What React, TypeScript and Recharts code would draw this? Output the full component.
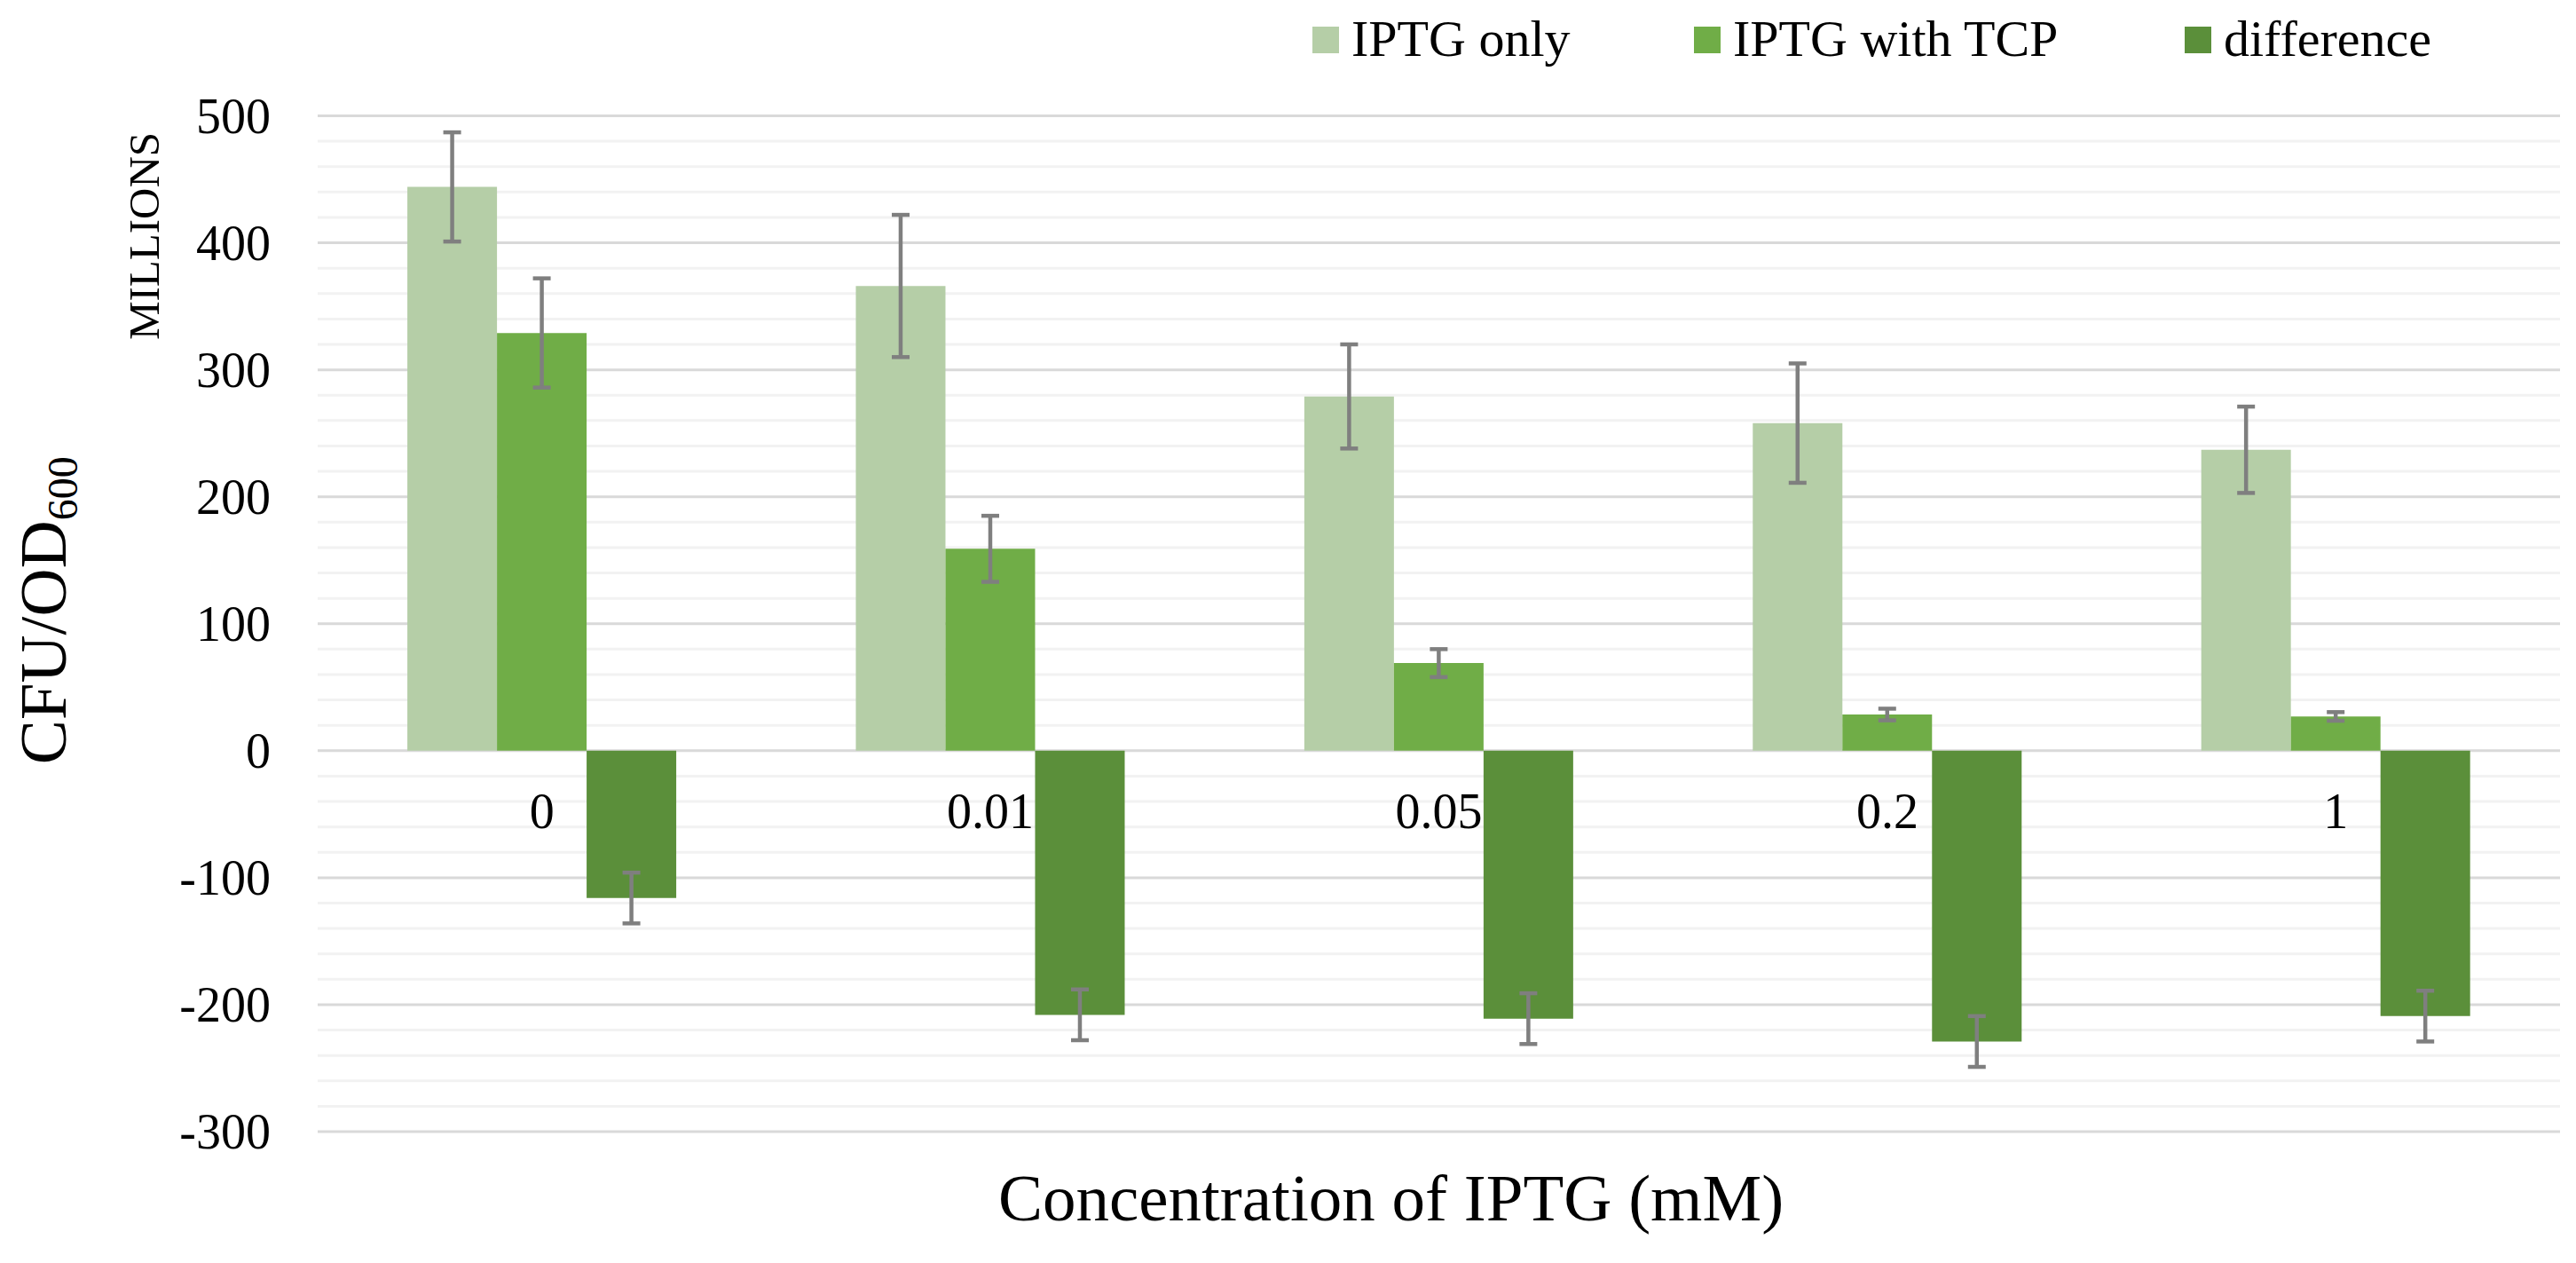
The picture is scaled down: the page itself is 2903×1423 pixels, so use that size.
import React from 'react';
import {
  BarChart,
  Bar,
  XAxis,
  YAxis,
  CartesianGrid,
  ErrorBar,
  ReferenceDot,
} from 'recharts';

if (typeof document !== 'undefined') {
  document.body.style.margin = '0';
}

// ---- data ----
const categories = ['0', '0.01', '0.05', '0.2', '1'];
const iptgOnly = [444, 366, 279, 258, 237];
const iptgOnlyErr = [43, 56, 41, 47, 34];
const iptgTcp = [329, 159, 69, 28.5, 27];
const iptgTcpErr = [43, 26, 11, 4.6, 3.4];
const difference = [-116, -208, -211, -229, -209];
const differenceErr = [20, 20, 20, 20, 20];

const yTicks = [-300, -200, -100, 0, 100, 200, 300, 400, 500];
const minorTicks = [
  -280, -260, -240, -220, -180, -160, -140, -120, -80, -60, -40, -20,
  20, 40, 60, 80, 120, 140, 160, 180, 220, 240, 260, 280, 320, 340, 360, 380,
  420, 440, 460, 480,
];

const seriesNames = ['IPTG only', 'IPTG with TCP', 'difference'];
const seriesColors = ['#B5CEA7', '#70AD47', '#5B8F3A'];
const legendLefts = [1479, 1909, 2462];

const data = categories.map((c, i) => ({
  category: c,
  iptgOnly: iptgOnly[i],
  iptgOnlyErr: iptgOnlyErr[i],
  iptgTcp: iptgTcp[i],
  iptgTcpErr: iptgTcpErr[i],
  difference: difference[i],
  differenceErr: differenceErr[i],
}));

const FONT = '"Liberation Serif", "Times New Roman", serif';
const W = 2903;
const H = 1423;

const YTick = (props: any) => {
  const { x, y, payload } = props;
  return (
    <text x={x} y={y} dy="0.34em" textAnchor="end" fontFamily={FONT} fontSize={56} fill="#000">
      {payload.value}
    </text>
  );
};

const YTitle = (props: any) => {
  const vb = props.viewBox || {};
  const cy = vb.y + vb.height / 2 - 15;
  return (
    <g>
      <text
        transform={`translate(74, ${cy}) rotate(-90)`}
        textAnchor="middle"
        fontFamily={FONT}
        fontSize={75}
        fill="#000"
      >
        CFU/OD
        <tspan fontSize={48} dy={13}>600</tspan>
      </text>
      <text
        transform={`translate(179, 266) rotate(-90)`}
        textAnchor="middle"
        fontFamily={FONT}
        fontSize={49}
        fill="#000"
      >
        MILLIONS
      </text>
    </g>
  );
};

const XTitle = (props: any) => {
  const vb = props.viewBox || {};
  return (
    <text
      x={vb.x + vb.width / 2 - 54}
      y={vb.y + 100}
      textAnchor="middle"
      fontFamily={FONT}
      fontSize={75}
      fill="#000"
    >
      Concentration of IPTG (mM)
    </text>
  );
};

const makeCatLabel = (label: string) => (p: any) => (
  <text x={p.cx} y={p.cy + 87} textAnchor="middle" fontFamily={FONT} fontSize={56} fill="#000">
    {label}
  </text>
);

export default function App() {
  return (
    <div style={{ position: 'relative', width: W, height: H, background: '#fff' }}>
      <BarChart
        width={W}
        height={H}
        data={data}
        margin={{ top: 130.5, right: 18, bottom: 0, left: 0 }}
        barGap={0}
        barCategoryGap="20%"
      >
        <CartesianGrid vertical={false} horizontalValues={minorTicks} stroke="#F2F2F2" strokeWidth={3} />
        <CartesianGrid vertical={false} horizontalValues={yTicks} stroke="#D9D9D9" strokeWidth={3} />
        <XAxis
          dataKey="category"
          tick={false}
          axisLine={false}
          tickLine={false}
          height={148}
          label={<XTitle />}
        />
        <YAxis
          domain={[-300, 500]}
          ticks={yTicks}
          width={358}
          axisLine={false}
          tickLine={false}
          tickSize={0}
          tickMargin={53}
          tick={<YTick />}
          label={<YTitle />}
          allowDataOverflow
        />
        <Bar dataKey="iptgOnly" fill={seriesColors[0]} isAnimationActive={false}>
          <ErrorBar dataKey="iptgOnlyErr" width={10} strokeWidth={4.5} stroke="#7F7F7F" />
        </Bar>
        <Bar dataKey="iptgTcp" fill={seriesColors[1]} isAnimationActive={false}>
          <ErrorBar dataKey="iptgTcpErr" width={10} strokeWidth={4.5} stroke="#7F7F7F" />
        </Bar>
        <Bar dataKey="difference" fill={seriesColors[2]} isAnimationActive={false}>
          <ErrorBar dataKey="differenceErr" width={10} strokeWidth={4.5} stroke="#7F7F7F" />
        </Bar>
        {categories.map((c) => (
          <ReferenceDot key={c} x={c} y={0} r={0} ifOverflow="visible" shape={makeCatLabel(c)} />
        ))}
      </BarChart>
      {seriesNames.map((name, i) => (
        <div
          key={name}
          style={{
            position: 'absolute',
            top: 0,
            left: legendLefts[i],
            display: 'flex',
            alignItems: 'flex-start',
            fontFamily: FONT,
            fontSize: 58,
            whiteSpace: 'nowrap',
          }}
        >
          <div style={{ width: 30, height: 30, marginTop: 30, background: seriesColors[i] }} />
          <span style={{ marginLeft: 14, marginTop: 15, lineHeight: '58px', color: '#000' }}>{name}</span>
        </div>
      ))}
    </div>
  );
}
